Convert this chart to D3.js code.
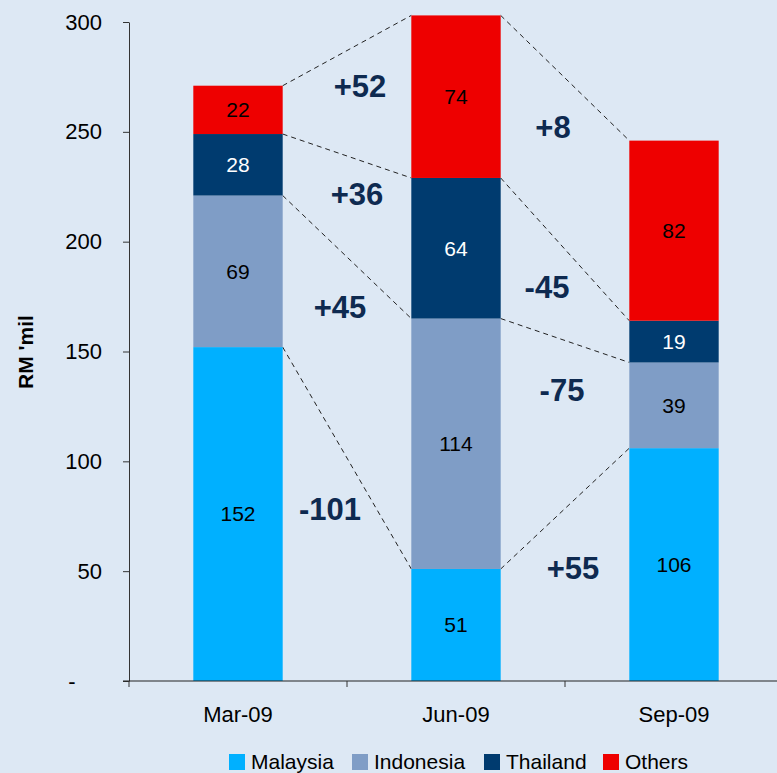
<!DOCTYPE html>
<html>
<head>
<meta charset="utf-8">
<script src="https://cdn.jsdelivr.net/npm/d3@7"></script>
<style>
  body { margin: 0; background: #dde8f4; }
  svg { display: block; font-family: "Liberation Sans", Arial, sans-serif; }
</style>
</head>
<body>
<svg id="chart" width="777" height="773"></svg>
<script>
// Quarterly breakdown, RM 'mil
const quarters = ['Mar-09', 'Jun-09', 'Sep-09'];
const seriesNames = ['Malaysia', 'Indonesia', 'Thailand', 'Others'];
const malaysia = [152, 51, 106];
const indonesia = [69, 114, 39];
const thailand = [28, 64, 19];
const others = [22, 74, 82];
const yTicks = [0, 50, 100, 150, 200, 250, 300];
// change labels between quarters, per series (Jun vs Mar, Sep vs Jun)
const changes = {
    Malaysia: ['-101', '+55'],
    Indonesia: ['+45', '-75'],
    Thailand: ['+36', '-45'],
    Others: ['+52', '+8']
};

const colors = {
    Malaysia: '#00b0ff',
    Indonesia: '#7f9dc6',
    Thailand: '#003b6f',
    Others: '#ee0000'
};
const labelColors = { Malaysia: '#000', Indonesia: '#000', Thailand: '#fff', Others: '#000' };

const svg = d3.select('#chart');
const W = 777, H = 773;
svg.append('rect').attr('width', W).attr('height', H).attr('fill', '#dde8f4');

const x0 = 129, step = 218;
const x = d3.scaleBand()
    .domain(quarters)
    .range([x0, x0 + step * quarters.length])
    .paddingInner(0.59)
    .paddingOuter(0.295);

const y = d3.scaleLinear().domain([0, 300]).range([681, 22]);

// stack the data
const rows = quarters.map((q, i) => ({
    quarter: q,
    Malaysia: malaysia[i],
    Indonesia: indonesia[i],
    Thailand: thailand[i],
    Others: others[i]
}));
const stacked = d3.stack().keys(seriesNames)(rows);

// dashed connector lines (drawn first so bars sit on top)
const conn = svg.append('g');
stacked.forEach(layer => {
    for (let i = 0; i < quarters.length - 1; i++) {
        conn.append('line')
            .attr('x1', x(quarters[i]) + x.bandwidth())
            .attr('y1', y(layer[i][1]))
            .attr('x2', x(quarters[i + 1]))
            .attr('y2', y(layer[i + 1][1]))
            .attr('stroke', '#222')
            .attr('stroke-width', 1)
            .attr('stroke-dasharray', '5,4');
    }
});

// bars
const layers = svg.append('g')
    .selectAll('g')
    .data(stacked)
    .enter()
    .append('g')
    .attr('fill', d => colors[d.key]);

layers.selectAll('rect')
    .data(d => d)
    .enter()
    .append('rect')
    .attr('x', d => x(d.data.quarter))
    .attr('y', d => y(d[1]))
    .attr('width', x.bandwidth())
    .attr('height', d => y(d[0]) - y(d[1]));

// value labels in segments
stacked.forEach(layer => {
    svg.append('g')
        .selectAll('text')
        .data(layer)
        .enter()
        .append('text')
        .attr('x', d => x(d.data.quarter) + x.bandwidth() / 2)
        .attr('y', d => (y(d[0]) + y(d[1])) / 2)
        .attr('dy', '0.35em')
        .attr('text-anchor', 'middle')
        .attr('font-size', 21)
        .attr('fill', labelColors[layer.key])
        .text(d => d.data[layer.key]);
});

// change labels between bars
const changePos = {
    Others: [[360, 86], [553, 127]],
    Thailand: [[357, 194], [547, 287]],
    Indonesia: [[340, 307], [562, 390]],
    Malaysia: [[330, 509], [573, 568]]
};
seriesNames.forEach(name => {
    changes[name].forEach((txt, i) => {
        svg.append('text')
            .attr('x', changePos[name][i][0])
            .attr('y', changePos[name][i][1])
            .attr('dy', '0.35em')
            .attr('text-anchor', 'middle')
            .attr('font-size', 31)
            .attr('font-weight', 'bold')
            .attr('fill', '#0e2a50')
            .text(txt);
    });
});

// y axis
const yAxis = svg.append('g')
    .attr('transform', `translate(${x0},0)`)
    .call(d3.axisLeft(y)
        .tickValues(yTicks)
        .tickSize(6)
        .tickSizeOuter(0)
        .tickPadding(21)
        .tickFormat(d => d === 0 ? '-' : d));
yAxis.select('.domain').attr('stroke', '#333');
yAxis.selectAll('.tick line').attr('stroke', '#333');
yAxis.selectAll('.tick text')
    .attr('font-size', 22)
    .attr('font-family', '"Liberation Sans", Arial, sans-serif')
    .attr('fill', '#000');
yAxis.selectAll('.tick text').filter(d => d === 0)
    .attr('text-anchor', 'middle')
    .attr('x', 72 - x0);

// x axis line and boundary ticks
svg.append('line')
    .attr('x1', x0 - 6).attr('x2', W)
    .attr('y1', y(0)).attr('y2', y(0))
    .attr('stroke', '#222').attr('stroke-width', 1.2);
d3.range(quarters.length + 1).forEach(i => {
    svg.append('line')
        .attr('x1', x0 + i * step).attr('x2', x0 + i * step)
        .attr('y1', y(0)).attr('y2', y(0) + 6)
        .attr('stroke', '#333');
});

svg.append('g')
    .selectAll('text')
    .data(quarters)
    .enter()
    .append('text')
    .attr('x', d => x(d) + x.bandwidth() / 2)
    .attr('y', 714)
    .attr('dy', '0.35em')
    .attr('text-anchor', 'middle')
    .attr('font-size', 22)
    .text(d => d);

// y axis title
svg.append('text')
    .attr('transform', 'translate(33,352) rotate(-90)')
    .attr('text-anchor', 'middle')
    .attr('font-size', 21)
    .attr('font-weight', 'bold')
    .text("RM 'mil");

// legend
const legendX = [229, 352, 484, 603];
const legend = svg.append('g');
seriesNames.forEach((name, i) => {
    legend.append('rect')
        .attr('x', legendX[i]).attr('y', 754)
        .attr('width', 16).attr('height', 16)
        .attr('fill', colors[name]);
    legend.append('text')
        .attr('x', legendX[i] + 22).attr('y', 762)
        .attr('dy', '0.35em')
        .attr('font-size', 21)
        .text(name);
});
</script>
</body>
</html>
